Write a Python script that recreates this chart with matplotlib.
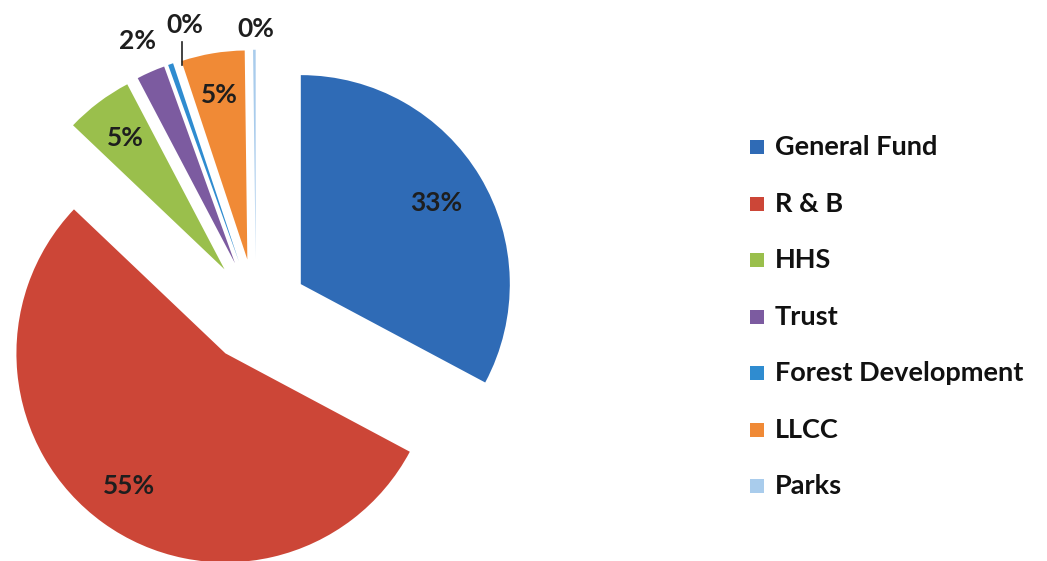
import numpy as np
import matplotlib
matplotlib.use("Agg")
import matplotlib.pyplot as plt
from matplotlib.patches import Rectangle

categories = ["General Fund", "R & B", "HHS", "Trust", "Forest Development", "LLCC", "Parks"]
shares = [32.8, 54.3, 5.2, 2.2, 0.4, 4.9, 0.2]
pct_labels = ["33%", "55%", "5%", "2%", "0%", "5%", "0%"]
colors = ["#2F6BB6", "#CC4637", "#9ABF4C", "#7C5BA0", "#2F8CD0", "#F08A36", "#A9CCEC"]
explode = [0.25] * 7  # fraction of radius, every slice pulled out
# label radius as fraction of r, and angular nudge (deg), per slice
label_dist = [0.755, 0.785, 0.79, 1.16, 1.16, 0.80, 1.10]
label_nudge = [0, 0, 0, 0, -6.3, 0, -0.5]

W, H = 1047, 561
fig = plt.figure(figsize=(W / 100, H / 100), dpi=100)
fig.patch.set_facecolor("white")

# pie axes in pixel units (y up)
ax = fig.add_axes([0, 0, 560 / W, 1])

R = 209
cx, cy = 256, H - 311
wedges, _ = ax.pie(shares, colors=colors, explode=[e * R for e in explode],
                   startangle=90, counterclock=False, radius=R, center=(cx, cy),
                   wedgeprops=dict(linewidth=0), frame=True)
ax.set_xlim(0, 560)
ax.set_ylim(0, H)
ax.set_aspect("auto")
ax.axis("off")

for i, w in enumerate(wedges):
    mid = np.deg2rad((w.theta1 + w.theta2) / 2 + label_nudge[i])
    wx, wy = w.center
    f = label_dist[i]
    tx = wx + f * R * np.cos(mid)
    ty = wy + f * R * np.sin(mid)
    ax.text(tx, ty, pct_labels[i], ha="center", va="center", fontsize=19,
            family="Lato", weight="bold", color="#1E1E1E")
    if categories[i] == "Forest Development":
        # leader line from label down to the thin slice
        ax.plot([tx - 3, tx - 3], [ty - 17, ty - 40], color="#222222", lw=1.2)

# legend
lax = fig.add_axes([0, 0, 1, 1])
lax.set_xlim(0, W)
lax.set_ylim(H, 0)
lax.axis("off")
y0, dy = 147, 56.5
for i, (name, c) in enumerate(zip(categories, colors)):
    y = y0 + i * dy
    lax.add_patch(Rectangle((750, y - 7), 14, 14, facecolor=c, edgecolor="none"))
    lax.text(775, y, name, ha="left", va="center", fontsize=19.5,
             family="Lato", weight="bold", color="#111111")

fig.savefig("out.png", dpi=100)
